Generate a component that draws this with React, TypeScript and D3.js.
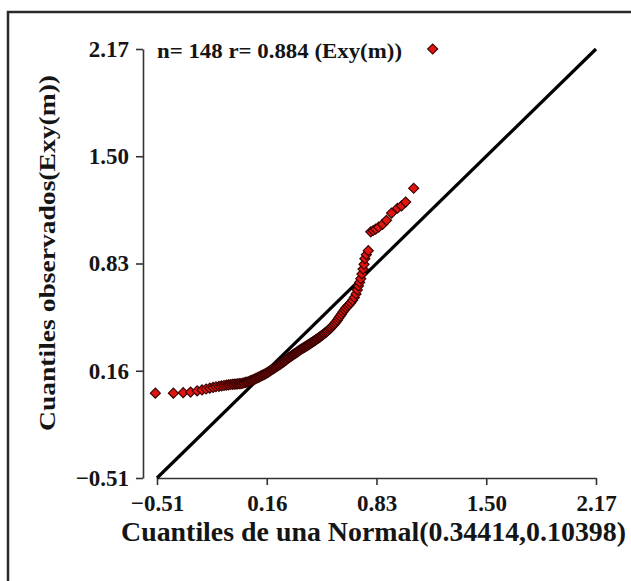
import { useRef, useEffect } from "react";
import { select, scaleLinear, axisLeft, axisBottom, symbol, symbolSquare, format } from "d3";

const WIDTH = 631;
const HEIGHT = 581;
const FONT = "'Liberation Serif', 'Times New Roman', serif";

// tick values shared by both axes
const ticks = [-0.51, 0.16, 0.83, 1.5, 2.17];

// theoretical quantiles, Normal(0.34414, 0.10398)
const theoretical = [
  -0.52, -0.41, -0.35, -0.305, -0.265, -0.235, -0.21, -0.188, -0.168, -0.15,
  -0.132, -0.116, -0.101, -0.087, -0.074, -0.062, -0.05, -0.039, -0.028, -0.018,
  -0.008, 0.002, 0.012, 0.021, 0.03, 0.039, 0.047, 0.055, 0.063, 0.071,
  0.079, 0.087, 0.094, 0.101, 0.108, 0.115, 0.122, 0.129, 0.136, 0.143,
  0.15, 0.156, 0.163, 0.169, 0.176, 0.182, 0.188, 0.194, 0.2, 0.206,
  0.212, 0.218, 0.224, 0.23, 0.236, 0.242, 0.248, 0.254, 0.26, 0.266,
  0.272, 0.278, 0.283, 0.289, 0.294, 0.3, 0.306, 0.311, 0.317, 0.322,
  0.328, 0.333, 0.339, 0.344, 0.35, 0.355, 0.361, 0.366, 0.372, 0.377,
  0.383, 0.388, 0.394, 0.399, 0.405, 0.411, 0.416, 0.422, 0.427, 0.433,
  0.439, 0.445, 0.451, 0.457, 0.463, 0.469, 0.475, 0.481, 0.487, 0.493,
  0.499, 0.506, 0.512, 0.519, 0.525, 0.532, 0.539, 0.546, 0.553, 0.56,
  0.567, 0.575, 0.583, 0.591, 0.599, 0.607, 0.616, 0.625, 0.634, 0.643,
  0.653, 0.663, 0.673, 0.684, 0.695, 0.705, 0.713, 0.72, 0.727, 0.734,
  0.741, 0.748, 0.754, 0.759, 0.768, 0.78, 0.795, 0.81, 0.825, 0.843,
  0.867, 0.891, 0.922, 0.958, 0.983, 1.008, 1.057, 1.173,
];

// observed quantiles Exy(m)
const observed = [
  0.02, 0.02, 0.023, 0.027, 0.034, 0.04, 0.046, 0.051, 0.056, 0.06,
  0.063, 0.066, 0.068, 0.07, 0.072, 0.074, 0.075, 0.076, 0.077, 0.078,
  0.079, 0.08, 0.082, 0.084, 0.087, 0.089, 0.091, 0.094, 0.098, 0.101,
  0.104, 0.108, 0.112, 0.115, 0.119, 0.122, 0.126, 0.129, 0.133, 0.136,
  0.14, 0.144, 0.148, 0.152, 0.157, 0.161, 0.165, 0.169, 0.173, 0.177,
  0.181, 0.185, 0.189, 0.193, 0.197, 0.201, 0.205, 0.21, 0.214, 0.219,
  0.223, 0.228, 0.232, 0.237, 0.241, 0.245, 0.249, 0.253, 0.257, 0.261,
  0.265, 0.268, 0.272, 0.276, 0.28, 0.284, 0.288, 0.292, 0.296, 0.299,
  0.302, 0.306, 0.309, 0.313, 0.316, 0.32, 0.323, 0.327, 0.331, 0.335,
  0.339, 0.343, 0.347, 0.351, 0.356, 0.36, 0.364, 0.369, 0.373, 0.378,
  0.383, 0.388, 0.393, 0.398, 0.404, 0.41, 0.416, 0.423, 0.43, 0.438,
  0.446, 0.455, 0.465, 0.476, 0.488, 0.5, 0.513, 0.527, 0.54, 0.552,
  0.563, 0.573, 0.585, 0.6, 0.618, 0.64, 0.665, 0.69, 0.712, 0.735,
  0.765, 0.795, 0.825, 0.86, 0.885, 0.91, 1.028, 1.036, 1.045, 1.057,
  1.075, 1.1, 1.145, 1.175, 1.19, 1.214, 1.3, 2.17,
];

const title = "n= 148 r= 0.884 (Exy(m))";
const xLabel = "Cuantiles de una Normal(0.34414,0.10398)";
const yLabel = "Cuantiles observados(Exy(m))";

function App() {
  const svgRef = useRef<SVGSVGElement>(null);

  useEffect(() => {
    const svg = select(svgRef.current);

    const xScale = scaleLinear().domain([-0.51, 2.17]).range([157, 596]);
    const yScale = scaleLinear().domain([-0.51, 2.17]).range([478, 49]);

    // frame
    svg.select(".frame")
      .attr("x", 8)
      .attr("y", 12)
      .attr("width", 660)
      .attr("height", 620)
      .attr("fill", "none")
      .attr("stroke", "#2a2a2a")
      .attr("stroke-width", 2.5);

    // y-axis
    svg.select(".y-axis")
      .attr("transform", "translate(143,0)")
      .call(axisLeft(yScale).tickValues(ticks).tickFormat(format(".2f")).tickSize(7).tickSizeOuter(0).tickPadding(7) as any);

    // x-axis
    svg.select(".x-axis")
      .attr("transform", "translate(0,478)")
      .call(axisBottom(xScale).tickValues(ticks).tickFormat(format(".2f")).tickSize(7).tickSizeOuter(0).tickPadding(10) as any);

    svg.selectAll(".y-axis, .x-axis")
      .attr("font-size", 23)
      .attr("font-family", FONT)
      .attr("font-weight", "bold");
    svg.selectAll(".y-axis path, .x-axis path, .y-axis line, .x-axis line")
      .attr("stroke", "#333")
      .attr("stroke-width", 1.6);
    svg.selectAll(".y-axis text, .x-axis text").attr("fill", "#151515");

    // reference line y = x
    svg.select(".ref-line")
      .attr("x1", xScale(-0.51))
      .attr("y1", yScale(-0.51))
      .attr("x2", xScale(2.17))
      .attr("y2", yScale(2.17))
      .attr("stroke", "#000")
      .attr("stroke-width", 3.2);

    // points
    const diamond = symbol().type(symbolSquare).size(50);
    svg.select(".points")
      .selectAll("path")
      .data(theoretical.map((x, i) => ({ x, y: observed[i] })))
      .join("path")
      .attr("d", diamond() as string)
      .attr("transform", (d) => `translate(${xScale(d.x)},${yScale(d.y)}) rotate(45)`)
      .attr("fill", "#e3140f")
      .attr("stroke", "#3a0404")
      .attr("stroke-width", 1.2);

    // annotation
    svg.select(".title")
      .attr("x", 157)
      .attr("y", 58)
      .attr("textLength", 245)
      .attr("lengthAdjust", "spacingAndGlyphs")
      .style("font-size", "22px")
      .style("font-family", FONT)
      .style("font-weight", "bold")
      .attr("fill", "#151515")
      .text(title);

    // x-label
    svg.select(".x-label")
      .attr("x", 121)
      .attr("y", 541)
      .attr("textLength", 505)
      .attr("lengthAdjust", "spacingAndGlyphs")
      .style("font-size", "27px")
      .style("font-family", FONT)
      .style("font-weight", "bold")
      .attr("fill", "#151515")
      .text(xLabel);

    // y-label
    svg.select(".y-label")
      .attr("transform", "rotate(-90)")
      .attr("x", -431)
      .attr("y", 55)
      .attr("textLength", 356)
      .attr("lengthAdjust", "spacingAndGlyphs")
      .style("font-size", "23px")
      .style("font-family", FONT)
      .style("font-weight", "bold")
      .attr("fill", "#151515")
      .text(yLabel);
  }, []);

  return (
    <svg
      ref={svgRef}
      width={WIDTH}
      height={HEIGHT}
      style={{ position: "absolute", left: 0, top: 0, background: "#fff" }}
    >
      <rect className="frame" />
      <g className="y-axis" />
      <g className="x-axis" />
      <line className="ref-line" />
      <g className="points" />
      <text className="title" />
      <text className="x-label" />
      <text className="y-label" />
    </svg>
  );
}

export default App;
